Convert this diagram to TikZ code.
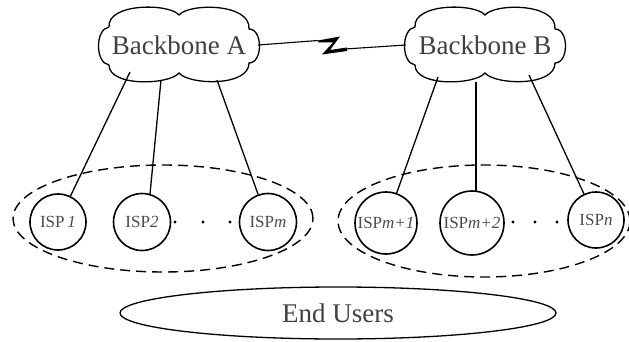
\documentclass[tikz,border=0pt]{standalone}
\usepackage{fontspec}
\setmainfont{Liberation Serif}
\usetikzlibrary{shapes.geometric}
\begin{document}
\begin{tikzpicture}[x=1pt,y=-1pt,
  bigtext/.style={font=\fontsize{27}{29}\selectfont, text=black!75},
  isptext/.style={font=\fontsize{17}{19}\selectfont, text=black!70},
  cloudline/.style={line width=1.3pt},
  isp/.style={circle, draw, line width=1.6pt, inner sep=0pt},
  link/.style={line width=1.3pt},
  group/.style={ellipse, draw, dash pattern=on 10pt off 6pt, line width=1.4pt, inner sep=0pt},
  dot/.style={circle, fill=black, inner sep=0pt, minimum size=3.2pt}]
\useasboundingbox (0,0) rectangle (629,342);
\fill[white] (0,0) rectangle (629,342);

% cloud outline: six puffs round a centre point
\newcommand\cloudoutline[1]{%
  \draw[cloudline, fill=white, shift={#1}]
    (-70,20) .. controls (-84,18) and (-84,-16) .. (-70,-18)
    .. controls (-72,-42) and (-10,-42) .. (0,-30)
    .. controls (10,-42) and (72,-42) .. (70,-16)
    .. controls (84,-16) and (84,18) .. (70,18)
    .. controls (70,42) and (10,40) .. (0,28)
    .. controls (-10,40) and (-70,42) .. cycle;}

% backbone clouds
\cloudoutline{(179,45)}
\cloudoutline{(485,45)}
\node[bigtext, inner sep=0pt, minimum width=158pt, minimum height=74pt] (A) at (179,45) {Backbone A};
\node[bigtext, inner sep=0pt, minimum width=158pt, minimum height=74pt] (B) at (485,45) {Backbone B};

% wireless link between the backbones
\coordinate (z1) at (318,40.5);
\coordinate (z4) at (345,49);
\draw[line width=1.1pt] (A.east) -- (z1);
\fill (z1) -- (340,36.5) -- (330,50) -- (347,47.5) -- (347,51) -- (322,54.5) -- (333,42.5) -- (318,42.5) -- cycle;
\draw[line width=1.1pt] (z4) -- (B.west);

% ISP groups
\node[group, minimum width=300pt, minimum height=107pt] (gL) at (163,218.5) {};
\node[group, minimum width=292pt, minimum height=112pt] (gR) at (484,221) {};

\node[isp, minimum size=56pt] (i1) at (58,222) {};
\node[isptext] at (i1.center) {ISP\,\textit{1}};
\node[isp, minimum size=57pt] (i2) at (142,222) {};
\node[isptext] at (i2.center) {ISP\textit{2}};
\node[isp, minimum size=57pt] (im) at (268,222) {};
\node[isptext] at (im.center) {ISP\textit{m}};
\node[isp, minimum size=62pt] (im1) at (386,223) {};
\node[isptext] at (im1.center) {ISP\textit{m+1}};
\node[isp, minimum size=64pt] (im2) at (472,223) {};
\node[isptext] at (im2.center) {ISP\textit{m+2}};
\node[isp, minimum size=56pt] (in) at (596,220) {};
\node[isptext] at (in.center) {ISP\textit{n}};

% ellipsis dots
\node[dot] (d1) at (175,222) {};
\node[dot] (d2) at (203,222) {};
\node[dot] (d3) at (230,222) {};
\node[dot] (d4) at (513,222) {};
\node[dot] (d5) at (535,222) {};
\node[dot] (d6) at (557,222) {};

% links from backbones to ISPs
\coordinate (a1) at (130,72);
\coordinate (a2) at (161,80);
\coordinate (a3) at (217,80);
\coordinate (b1) at (438,77);
\coordinate (b2) at (476,82);
\coordinate (b3) at (529,75);
\draw[link] (a1) -- (i1);
\draw[link] (a2) -- (150,194);
\draw[link] (a3) -- (im);
\draw[link] (b1) -- (im1);
\draw[link] (b2) -- (476,191.2);
\draw[link] (b3) -- (in);

% end users
\node[ellipse, draw, line width=1.3pt, minimum width=436pt, minimum height=52pt,
      label={[bigtext]center:End Users}] (users) at (338,313) {};
\end{tikzpicture}
\end{document}
